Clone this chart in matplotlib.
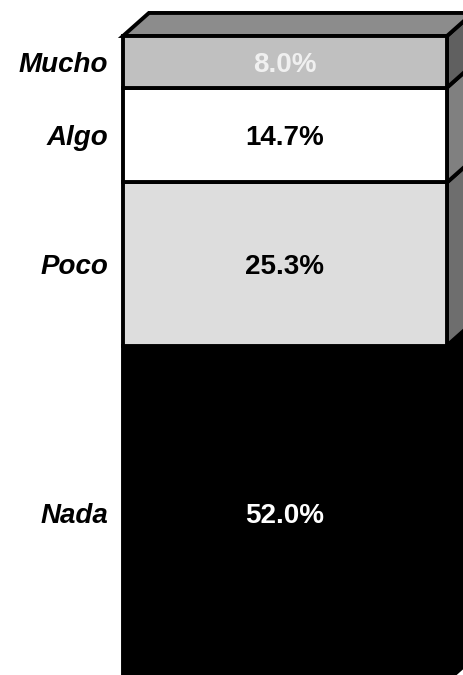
import matplotlib.pyplot as plt  # Para dibujar el grafico
from matplotlib.patches import Polygon  # Para las caras 3D de la barra

# Datos: categoria, porcentaje, color frontal, color lateral, color del texto
categorias = ['Nada', 'Poco', 'Algo', 'Mucho']
valores = [52.0, 25.3, 14.7, 8.0]
colores = ['#000000', '#dddddd', '#ffffff', '#c0c0c0']
laterales = ['#000000', '#6e6e6e', '#808080', '#606060']
color_texto = ['white', 'black', 'black', '#f0f0f0']
color_tapa = '#8c8c8c'

# Profundidad del efecto 3D (en unidades de los ejes)
dx = 0.08
dy = 3.57
grosor = 2.8

fig = plt.figure(figsize=(4.63, 6.75), dpi=100)
ax = fig.add_axes([0, 0, 1, 1])
ax.set_xlim(-0.8796, 0.5494)
ax.set_ylim(0.93, 105.58)
ax.axis('off')

fuente = 'Liberation Sans'
base = 0
for cat, val, col, lat, ct in zip(categorias, valores, colores, laterales, color_texto):
    # Cara frontal
    ax.bar(0, val, width=1, bottom=base, color=col, edgecolor='black',
           linewidth=grosor, zorder=2)
    # Cara lateral derecha
    lado = Polygon([(0.5, base), (0.5 + dx, base + dy),
                    (0.5 + dx, base + val + dy), (0.5, base + val)],
                   closed=True, facecolor=lat, edgecolor='black',
                   linewidth=grosor, zorder=1)
    ax.add_patch(lado)
    # Etiqueta de la categoria a la izquierda
    ax.text(-0.545, base + val / 2, cat, ha='right', va='center_baseline',
            fontsize=20, fontweight='bold', fontstyle='italic', family=fuente)
    # Porcentaje en el centro
    ax.text(0, base + val / 2, f'{val:.1f}%', ha='center', va='center_baseline',
            fontsize=20, fontweight='bold', color=ct, family=fuente, zorder=3)
    base += val

# Tapa superior
tapa = Polygon([(-0.5, base), (0.5, base), (0.5 + dx, base + dy),
                (-0.5 + dx, base + dy)], closed=True, facecolor=color_tapa,
               edgecolor='black', linewidth=grosor, zorder=1)
ax.add_patch(tapa)

plt.savefig('out.png', dpi=100)
